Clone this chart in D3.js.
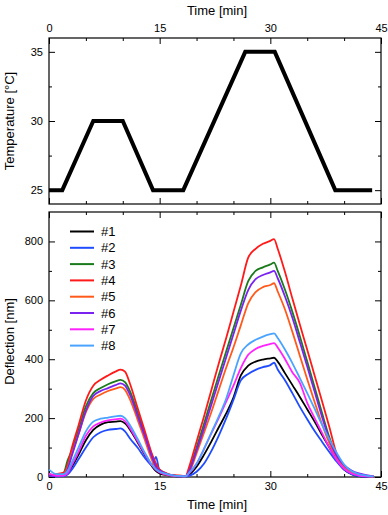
<!DOCTYPE html>
<html>
<head>
<meta charset="utf-8">
<script src="https://cdn.jsdelivr.net/npm/d3@7"></script>
<style>
  body { margin: 0; background: #fff; }
  svg { display: block; font-family: "Liberation Sans", Arial, sans-serif; }
  .axis path { display: none; }
  .axis line { stroke: #000; stroke-width: 1; }
  .axis text { font-size: 11px; fill: #000; }
</style>
</head>
<body>
<svg width="388" height="515"></svg>
<script>
// temperature program
const tempTime = [0, 1.8, 6.0, 10.0, 14.1, 18.2, 26.6, 30.6, 38.8, 43.8]
const tempValue = [25, 25, 30, 30, 25, 25, 35, 35, 25, 25]

// deflection, shared time grid (min)
const defTime = [0, 1, 2, 2.5, 3, 4, 5, 6, 7, 8, 9, 9.7, 10.3, 11, 12, 13, 14, 14.5, 15, 16, 17, 18,
  18.5, 19, 20, 21, 22, 23, 24, 25, 26, 27, 28, 29, 30, 30.5, 31, 32, 33, 34, 35, 36, 37, 38, 39, 40, 41, 42, 43, 44]

const names = ['#1', '#2', '#3', '#4', '#5', '#6', '#7', '#8']
const colors = ['#000000', '#1f4cff', '#1b7a1b', '#ff1a1a', '#ff5a1a', '#7a22f0', '#ff22ff', '#4aa3ff']

const s1 = [8, 3, 5, 10, 30, 75, 125, 160, 178, 186, 188, 190, 182, 160, 118, 75, 35, 20, 12, 6, 3, 2,
  2, 8, 35, 75, 120, 168, 215, 270, 345, 378, 392, 399, 403, 405, 392, 352, 312, 272, 230, 188, 143, 100, 57, 25, 10, 3, 1, 0]
const s2 = [5, 2, 3, 8, 22, 60, 100, 135, 152, 160, 163, 165, 155, 130, 100, 65, 40, 68, 20, 8, 3, 2,
  2, 4, 18, 45, 88, 140, 198, 262, 328, 350, 364, 373, 380, 388, 365, 328, 284, 238, 196, 156, 120, 85, 52, 25, 10, 3, 1, 0]
const s3 = [10, 5, 15, 55, 85, 160, 240, 285, 302, 315, 325, 330, 322, 290, 220, 145, 70, 40, 25, 10, 5, 3,
  2, 25, 100, 180, 262, 345, 425, 505, 585, 665, 700, 712, 722, 728, 700, 635, 560, 478, 392, 305, 218, 135, 72, 36, 18, 8, 3, 1]
const s4 = [5, 10, 15, 40, 90, 175, 260, 310, 330, 345, 358, 365, 358, 315, 235, 155, 75, 45, 25, 12, 6, 5,
  2, 35, 120, 205, 295, 385, 470, 560, 650, 745, 775, 792, 802, 808, 775, 695, 605, 518, 432, 345, 258, 170, 78, 38, 18, 10, 5, 2]
const s5 = [8, 5, 10, 30, 70, 145, 220, 265, 280, 292, 300, 305, 296, 262, 195, 125, 55, 30, 18, 8, 4, 3,
  2, 15, 80, 150, 220, 295, 370, 440, 515, 590, 628, 645, 652, 658, 630, 568, 492, 412, 332, 255, 180, 115, 65, 32, 15, 8, 3, 1]
const s6 = [5, 3, 8, 25, 65, 145, 225, 275, 292, 302, 312, 318, 310, 278, 208, 138, 65, 35, 22, 10, 5, 3,
  2, 20, 90, 165, 245, 325, 405, 485, 565, 635, 672, 686, 695, 700, 675, 612, 540, 458, 375, 290, 205, 128, 72, 40, 22, 12, 6, 2]
const s7 = [12, 5, 5, 12, 35, 85, 140, 172, 185, 192, 196, 198, 190, 165, 122, 78, 38, 24, 15, 8, 4, 2,
  2, 12, 45, 95, 148, 200, 255, 310, 370, 415, 435, 445, 452, 455, 440, 400, 355, 320, 252, 200, 150, 100, 58, 28, 12, 5, 2, 1]
const s8 = [25, 10, 10, 20, 45, 100, 155, 188, 198, 202, 206, 208, 200, 175, 130, 82, 40, 26, 18, 10, 5, 3,
  2, 15, 45, 95, 150, 205, 265, 345, 420, 450, 466, 477, 485, 488, 472, 432, 386, 336, 285, 232, 178, 128, 82, 42, 20, 10, 5, 2]
const series = [s1, s2, s3, s4, s5, s6, s7, s8]

const xMajor = [0, 15, 30, 45]
const xMinor = [5, 10, 20, 25, 35, 40]
const tMajor = [25, 30, 35]
const tMinor = [27.5, 32.5]
const dMajor = [0, 200, 400, 600, 800]
const dMinor = [100, 300, 500, 700]

let svg = d3.select('svg')

let left = 49, right = 381
let top1 = 38, bot1 = 204
let top2 = 212, bot2 = 477

let x = d3.scaleLinear().domain([0, 45]).range([left, right])
let yT = d3.scaleLinear().domain([24, 36]).range([bot1, top1])
let yD = d3.scaleLinear().domain([0, 900]).range([bot2, top2])

function frame(y0, y1, yScale, yMaj, yMin, labelTop, labelBottom) {
    // x ticks top
    svg.append('g').attr('class', 'axis').attr('transform', `translate(0,${y0})`)
    .call(d3.axisTop(x).tickValues(xMajor).tickSize(-6).tickPadding(6).tickFormat(labelTop ? d3.format('d') : ''))
    svg.append('g').attr('class', 'axis').attr('transform', `translate(0,${y0})`)
    .call(d3.axisTop(x).tickValues(xMinor).tickSize(-3).tickFormat(''))
    // x ticks bottom
    svg.append('g').attr('class', 'axis').attr('transform', `translate(0,${y1})`)
    .call(d3.axisBottom(x).tickValues(xMajor).tickSize(-6).tickPadding(5).tickFormat(labelBottom ? d3.format('d') : ''))
    svg.append('g').attr('class', 'axis').attr('transform', `translate(0,${y1})`)
    .call(d3.axisBottom(x).tickValues(xMinor).tickSize(-3).tickFormat(''))
    // y ticks
    svg.append('g').attr('class', 'axis').attr('transform', `translate(${left},0)`)
    .call(d3.axisLeft(yScale).tickValues(yMaj).tickSize(-6).tickPadding(6).tickFormat(d3.format('d')))
    svg.append('g').attr('class', 'axis').attr('transform', `translate(${left},0)`)
    .call(d3.axisLeft(yScale).tickValues(yMin).tickSize(-3).tickFormat(''))
    svg.append('g').attr('class', 'axis').attr('transform', `translate(${right},0)`)
    .call(d3.axisRight(yScale).tickValues(yMaj).tickSize(-6).tickFormat(''))
    svg.append('g').attr('class', 'axis').attr('transform', `translate(${right},0)`)
    .call(d3.axisRight(yScale).tickValues(yMin).tickSize(-3).tickFormat(''))

    svg.append('rect')
    .attr('x', left).attr('y', y0)
    .attr('width', right - left).attr('height', y1 - y0)
    .attr('fill', 'none').attr('stroke', '#000').attr('stroke-width', 1.2)
}

frame(top1, bot1, yT, tMajor, tMinor, true, false)
frame(top2, bot2, yD, dMajor, dMinor, false, true)

// temperature line
svg.append('path')
.datum(tempTime.map((t, i) => [t, tempValue[i]]))
.attr('fill', 'none')
.attr('stroke', '#000')
.attr('stroke-width', 4)
.attr('stroke-linejoin', 'miter')
.attr('d', d3.line().x(d => x(d[0])).y(d => yT(d[1])))

// deflection lines
let lineD = d3.line().curve(d3.curveMonotoneX).x(d => x(d[0])).y(d => yD(d[1]))
series.forEach((s, k) => {
    svg.append('path')
    .datum(defTime.map((t, i) => [t, s[i]]))
    .attr('fill', 'none')
    .attr('stroke', colors[k])
    .attr('stroke-width', 1.8)
    .attr('stroke-linejoin', 'round')
    .attr('d', lineD)
})

// legend
let leg = svg.append('g').selectAll('g')
.data(names)
.enter()
.append('g')
.attr('transform', (d, i) => `translate(70 ${231.5 + i * 16.3})`)

leg.append('line')
.attr('x1', 0).attr('x2', 24)
.attr('stroke', (d, i) => colors[i])
.attr('stroke-width', 2)

leg.append('text')
.attr('x', 31).attr('y', 0)
.attr('dominant-baseline', 'central')
.attr('font-size', 13)
.text(d => d)

// titles
svg.append('text')
.attr('x', 217).attr('y', 15)
.attr('text-anchor', 'middle')
.attr('font-size', 13)
.text('Time [min]')

svg.append('text')
.attr('x', 217).attr('y', 509)
.attr('text-anchor', 'middle')
.attr('font-size', 13)
.text('Time [min]')

svg.append('text')
.attr('transform', `translate(14 ${(top1 + bot1) / 2}) rotate(-90)`)
.attr('text-anchor', 'middle')
.attr('font-size', 13)
.text('Temperature [°C]')

svg.append('text')
.attr('transform', `translate(14 ${(top2 + bot2) / 2 - 3}) rotate(-90)`)
.attr('text-anchor', 'middle')
.attr('font-size', 13)
.text('Deflection [nm]')
</script>
</body>
</html>
